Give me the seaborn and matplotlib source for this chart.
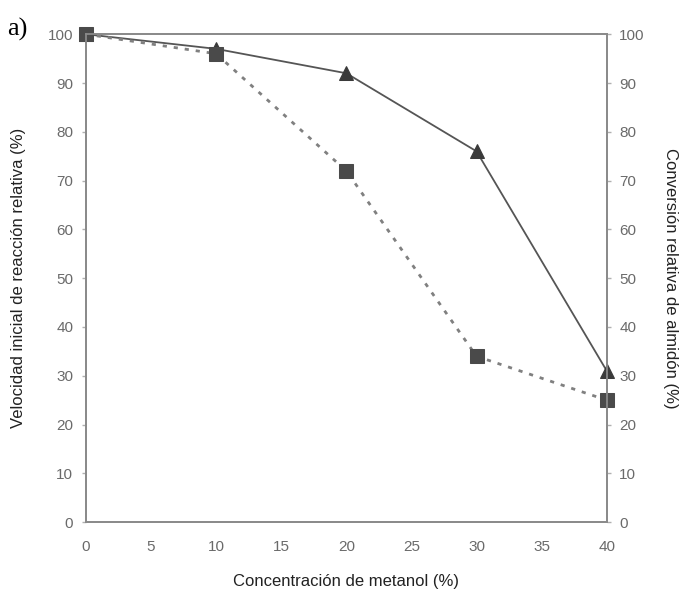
import matplotlib
matplotlib.use("Agg")
import matplotlib.pyplot as plt
import seaborn as sns
import pandas as pd

# datos
metanol = [0, 10, 20, 30, 40]
velocidad = [100, 97, 92, 76, 31]      # triangulos, linea continua
conversion = [100, 96, 72, 34, 25]     # cuadrados, linea punteada

df = pd.DataFrame({"metanol": metanol, "velocidad": velocidad, "conversion": conversion})

sns.set_style("white")
plt.rcParams['font.family'] = ['Liberation Sans', 'DejaVu Sans']

fig = plt.figure(figsize=(6.81, 5.90), dpi=100)
ax = fig.add_axes([0.126, 0.115, 0.765, 0.827])

ax2 = ax.twinx()
ax2.set_ylim(0, 100)
ax2.set_yticks(range(0, 101, 10))

sns.lineplot(data=df, x="metanol", y="velocidad", ax=ax2, color="#555555",
             linewidth=1.3, marker="^", markersize=10, clip_on=False,
             markerfacecolor="#3a3a3a", markeredgecolor="#3a3a3a")
sns.lineplot(data=df, x="metanol", y="conversion", ax=ax2, color="#808080",
             linestyle=(0, (1.5, 2.5)), linewidth=2, marker="s", markersize=10,
             clip_on=False, markerfacecolor="#4a4a4a", markeredgecolor="#4a4a4a")
ax2.set_xlabel("")
ax2.set_ylabel("")

ax.set_xlim(0, 40)
ax.set_ylim(0, 100)
ax.set_xticks(range(0, 41, 5))
ax.set_yticks(range(0, 101, 10))

for a in (ax, ax2):
    for s in a.spines.values():
        s.set_color("#8a8a8a")
        s.set_linewidth(1.3)
    a.tick_params(colors="#6a6a6a", labelsize=11, length=3, width=1, direction="out", pad=6)
    a.tick_params(axis="both", color="#b0b0b0")
ax.tick_params(axis="x", pad=10)

ax.set_xlabel("Concentración de metanol (%)", fontsize=12, color="#222222", labelpad=14)
ax.set_ylabel("Velocidad inicial de reacción relativa (%)", fontsize=12, color="#222222", labelpad=16)
ax2.set_ylabel("Conversión relativa de almidón (%)", fontsize=12, color="#222222",
               rotation=270, labelpad=24)

fig.text(0.01, 0.94, "a)", fontsize=19, family=["Liberation Serif", "DejaVu Serif"], color="black")

fig.savefig("out.png", dpi=100)
